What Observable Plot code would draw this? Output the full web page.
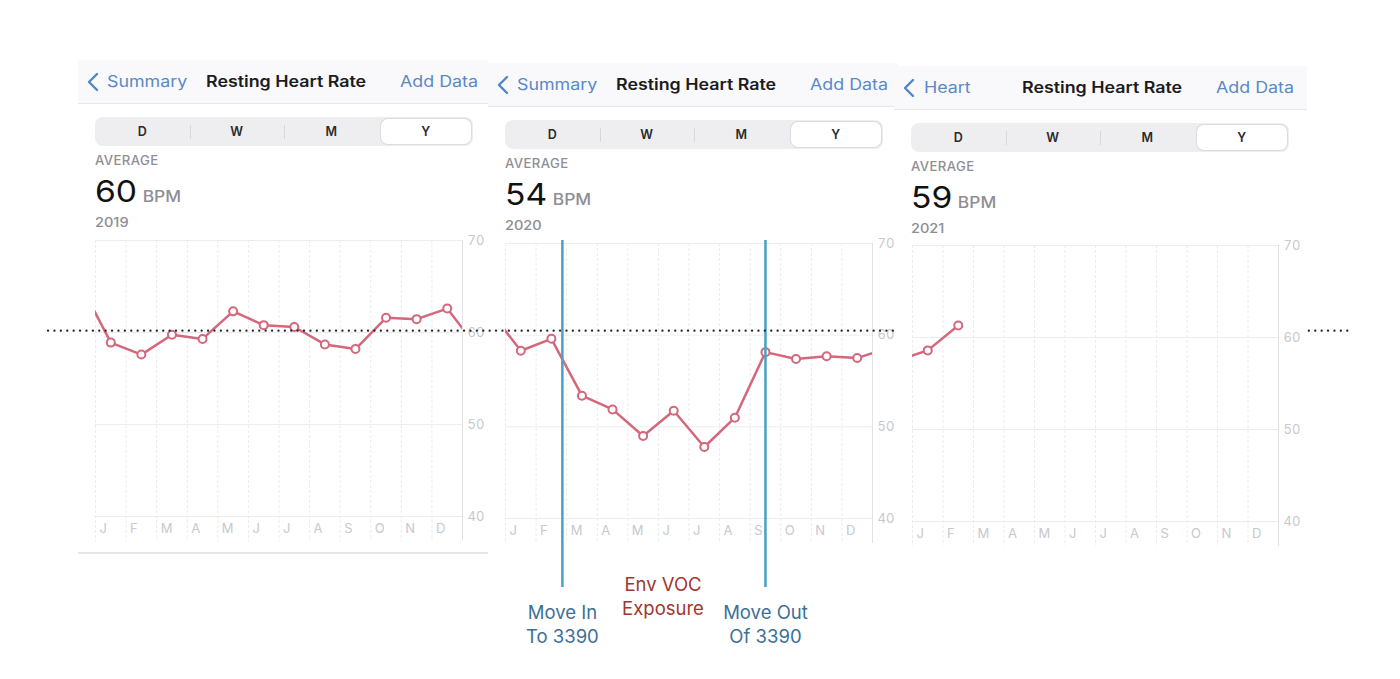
<!DOCTYPE html>
<html><head><meta charset="utf-8">
<script src="https://cdn.jsdelivr.net/npm/d3@7"></script>
<script src="https://cdn.jsdelivr.net/npm/@observablehq/plot@0.6"></script>
<style>
body{margin:0;background:#fff;font-family:Inter,"Noto Sans",sans-serif;}
#root{position:relative;width:1400px;height:679px;overflow:hidden;background:#fff;}
.panel{position:absolute;background:#fff;}
.nav{position:absolute;left:0;top:0;height:43px;background:#f9f9fb;border-bottom:1px solid #e6e6ea;}
.nav span{position:absolute;top:0;line-height:43px;font-size:15.5px;white-space:nowrap;transform-origin:left center;transform:scaleX(1.15);}
.back,.add{color:#5a89c6;}
.title{color:#1c1c1e;font-weight:600;}
.chev{position:absolute;left:9px;top:12px;}
.seg{position:absolute;left:17px;top:57px;height:29px;background:#eeeef0;border-radius:8px;}
.seg .sel{position:absolute;top:2px;height:25px;background:#fff;border-radius:7px;box-shadow:0 0 0 1px #dcdce0;}
.seg .lab{position:absolute;top:0;line-height:29px;text-align:center;font-size:12.5px;font-weight:600;color:#2a2a2c;}
.seg .div{position:absolute;top:8px;width:1px;height:14px;background:#d8d8dc;}
.avg{position:absolute;left:17px;top:93px;line-height:16px;font-size:12.5px;font-weight:500;color:#8e8e93;letter-spacing:0.4px;transform-origin:left center;transform:scaleX(1.05);}
.big{position:absolute;left:17px;top:113px;line-height:36px;white-space:nowrap;transform-origin:left center;transform:scaleX(1.12);}
.num{font-size:30px;color:#111;}
.unit{font-size:15.5px;color:#8e8e93;margin-left:5px;font-weight:500;}
.year{position:absolute;left:17px;top:154px;line-height:16px;font-size:13px;color:#8e8e93;font-weight:500;transform-origin:left center;transform:scaleX(1.12);}
svg.chart{position:absolute;}
</style></head>
<body><div id="root"></div>
<script>
// ---- data ----
const months = ["J","F","M","A","M","J","J","A","S","O","N","D"];
const years = ["2019","2020","2021"];
const averages = [60, 54, 59];
const backLabels = ["Summary","Summary","Heart"];
const segments = ["D","W","M","Y"];
const yTicks = [40,50,60,70];
const rhrDec2018 = 65.3;
const rhr2019 = [58.9, 57.6, 59.75, 59.3, 62.3, 60.8, 60.6, 58.7, 58.2, 61.6, 61.45, 62.6];
const rhr2020 = [58.3, 59.6, 53.4, 51.9, 49.0, 51.75, 47.8, 51.0, 58.15, 57.4, 57.7, 57.5];
const rhr2021 = [58.6, 61.3];
const referenceLevel = 60.2;
const eventMonths = [1.86, 8.5];
const eventLabels = ["Move In\nTo 3390", "Move Out\nOf 3390"];
const exposureMonth = [5.15];
const exposureLabel = ["Env VOC\nExposure"];

// ---- styles/layout ----
const lineColor = "#d4677b";
const gridColor = "#ececef";
const axisText = "#c8c8cd";
const panels = [
  {left:78,  top:60, w:410, h:492, border:true,  frame:{x:95,  y:240, w:367, h:276}},
  {left:488, top:63, w:410, h:495, border:false, frame:{x:505, y:243, w:367, h:275}},
  {left:894, top:66, w:413, h:480, border:false, frame:{x:912, y:245, w:366, h:276}}
];
const root = document.getElementById("root");

function header(i){
  const p = panels[i];
  const div = document.createElement("div");
  div.className = "panel";
  Object.assign(div.style,{left:p.left+"px",top:p.top+"px",width:p.w+"px",height:p.h+"px",zIndex:i===2?4:i+1});
  if (p.border) div.style.borderBottom = "2px solid #e6e6e8";
  const segW = 378, segStep = segW/4;
  let seg = "";
  segments.forEach((s,k)=>{
    if (k===3) seg += `<div class="sel" style="left:${k*segStep+2}px;width:${segStep-4}px"></div>`;
    if (k>0 && k<3) seg += `<div class="div" style="left:${k*segStep}px"></div>`;
    seg += `<div class="lab" style="left:${k*segStep}px;width:${segStep}px">${s}</div>`;
  });
  div.innerHTML = `
   <div class="nav" style="width:${p.w}px">
     <svg class="chev" width="12" height="20"><polyline points="10,2 2,10 10,18" fill="none" stroke="#4f86c6" stroke-width="2.4" stroke-linecap="round" stroke-linejoin="round"/></svg>
     <span class="back" style="left:${i===2?30:29}px">${backLabels[i]}</span>
     <span class="title" style="left:128px">Resting Heart Rate</span>
     <span class="add" style="left:322px">Add Data</span>
   </div>
   <div class="seg" style="width:${segW}px">${seg}</div>
   <div class="avg">AVERAGE</div>
   <div class="big"><span class="num">${averages[i]}</span><span class="unit">BPM</span></div>
   <div class="year">${years[i]}</div>`;
  root.appendChild(div);
}

function chart(i, vals, prev, next, mb, extra){
  const f = panels[i].frame;
  const ml = 10, mr = 34, mt = 8;
  const rows = [];
  if (prev != null) rows.push({x:-0.5, v:prev});
  vals.forEach((v,k)=>rows.push({x:k+0.5, v}));
  if (next != null) rows.push({x:12.5, v:next});
  const pts = vals.map((v,k)=>({x:k+0.5, v}));
  const svg = Plot.plot({
    width: f.w+ml+mr, height: f.h+mt+mb,
    marginLeft: ml, marginRight: mr, marginTop: mt, marginBottom: mb,
    style: {background:"transparent", overflow:"visible", fontFamily:"Inter, sans-serif"},
    x: {domain:[0,12]},
    y: {domain:[40,70]},
    marks: [
      Plot.ruleY(yTicks, {stroke:gridColor, strokeWidth:1}),
      Plot.ruleX(d3.range(12), {stroke:gridColor, strokeDasharray:"3,2", insetBottom:-25}),
      Plot.ruleX([12], {stroke:"#e2e2e6", insetBottom:-25}),
      Plot.axisY(yTicks, {anchor:"right", tickSize:0, tickPadding:5, fill:axisText, fontSize:13, label:null}),
      Plot.axisX(d3.range(12), {anchor:"bottom", tickSize:0, tickPadding:7, tickFormat:k=>months[k], textAnchor:"start", dx:4, fill:axisText, fontSize:13, label:null}),
      Plot.line(rows, {x:"x", y:"v", stroke:lineColor, strokeWidth:2.5, clip:true}),
      Plot.dot(pts, {x:"x", y:"v", r:4, fill:"white", stroke:lineColor, strokeWidth:2}),
      ...extra
    ]
  });
  svg.classList.add("chart");
  svg.style.left = (f.x-ml)+"px";
  svg.style.top = (f.y-mt)+"px";
  svg.style.zIndex = i===2?4:i+1;
  svg.style.maxWidth = "none";
  root.appendChild(svg);
}

[0,1,2].forEach(header);

chart(0, rhr2019, rhrDec2018, rhr2020[0], 32, []);
chart(1, rhr2020, rhr2019[11], rhr2021[0], 135, [
  Plot.ruleX(eventMonths, {stroke:"#47a1c7", strokeWidth:2.5, insetTop:-3, insetBottom:-69}),
  Plot.text(eventMonths, {x:d=>d, text:(d,k)=>eventLabels[k], frameAnchor:"bottom", lineAnchor:"top", dy:83, fontSize:18.5, lineHeight:1.3, fill:"#3d6f97"}),
  Plot.text(exposureMonth, {x:d=>d, text:(d,k)=>exposureLabel[k], frameAnchor:"bottom", lineAnchor:"top", dy:55, fontSize:18.5, lineHeight:1.3, fill:"#a1362f"})
]);
chart(2, rhr2021, rhr2020[11], null, 32, []);

// dotted reference line spanning the composite (drawn in panel 1's y scale), under panel 3
const f0 = panels[0].frame;
const overlay = Plot.plot({
  width: 1400, height: 679,
  marginLeft: 48, marginRight: 52, marginTop: f0.y, marginBottom: 679-(f0.y+f0.h),
  style: {background:"transparent"},
  y: {domain:[40,70], axis:null},
  marks: [Plot.ruleY([referenceLevel], {stroke:"#222", strokeWidth:2.2, strokeDasharray:"0.1,6.3", strokeLinecap:"round"})]
});
Object.assign(overlay.style,{position:"absolute",left:"0px",top:"0px",zIndex:3,maxWidth:"none",pointerEvents:"none"});
root.appendChild(overlay);
</script></body></html>
